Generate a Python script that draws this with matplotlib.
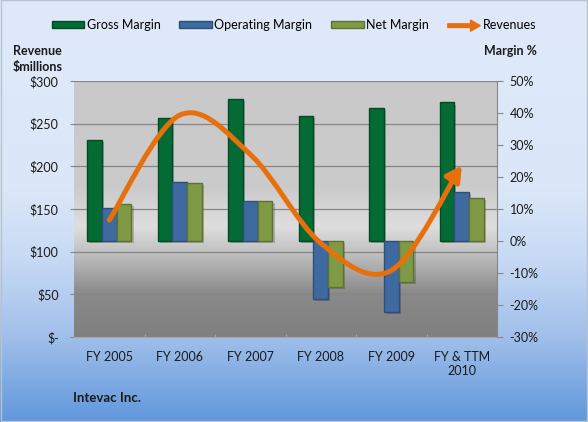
import numpy as np
import matplotlib
matplotlib.use("Agg")
import matplotlib.pyplot as plt
from matplotlib.colors import LinearSegmentedColormap
from matplotlib.patches import Patch, FancyArrowPatch, FancyArrow, Rectangle
from matplotlib.path import Path
from matplotlib.legend_handler import HandlerPatch
import matplotlib.patheffects as pe

plt.rcParams['font.family'] = ['Lato', 'DejaVu Sans']

# data
years = ['FY 2005', 'FY 2006', 'FY 2007', 'FY 2008', 'FY 2009', 'FY & TTM\n2010']
revenue = [137, 260, 214, 110, 78, 201]          # $ millions
gross_margin = [31.6, 38.5, 44.3, 39.2, 41.7, 43.3]
operating_margin = [10.4, 18.3, 12.5, -18.2, -22.3, 15.4]
net_margin = [11.6, 18.0, 12.6, -14.3, -12.9, 13.5]

rev_ticks = [0, 50, 100, 150, 200, 250, 300]
pct_ticks = [-30, -20, -10, 0, 10, 20, 30, 40, 50]

green, blue, olive, orange = '#036b33', '#3e6aa0', '#7f9a45', '#e8700c'
txt = '#1a1a1a'
fs = 9

fig = plt.figure(figsize=(5.88, 4.22), dpi=100)

# figure background gradient
bg = fig.add_axes([0, 0, 1, 1], zorder=-10)
bg_cmap = LinearSegmentedColormap.from_list('bg', [(0, '#dfe9f9'), (0.45, '#dbe7f8'),
                                                   (0.62, '#c6d9f4'), (0.8, '#a0bfea'),
                                                   (1, '#6197dc')])
bg.imshow(np.linspace(0, 1, 256).reshape(-1, 1), aspect='auto', cmap=bg_cmap,
          extent=[0, 1, 1, 0])
bg.set_xlim(0, 1); bg.set_ylim(1, 0)
bg.axis('off')
bg.add_patch(Rectangle((0.001, 0.001), 0.997, 0.996, fill=False, ec='#b8c2cc', lw=1))

# revenue axis (left) holds plot-area fill and grid
ax = fig.add_axes([74 / 588, 85 / 422, 423 / 588, 256 / 422])
pa_cmap = LinearSegmentedColormap.from_list('pa', [(0, '#c9c9c9'), (0.42, '#cbcbcb'),
                                                   (0.57, '#dedede'), (0.68, '#bebebe'),
                                                   (0.83, '#8a8a8a'), (1, '#7f7f7f')])
ax.imshow(np.linspace(0, 1, 256).reshape(-1, 1), aspect='auto', cmap=pa_cmap,
          extent=[-0.5, len(years) - 0.5, 0, 300], zorder=0)
ax.set_xlim(-0.5, len(years) - 0.5)
ax.set_ylim(0, 300)
ax.set_yticks(rev_ticks)
ax.set_yticklabels([f'${v}' if v else '$-' for v in rev_ticks])
ax.yaxis.grid(True, color='#868686', lw=0.9, zorder=1)
ax.set_axisbelow(True)
ax.set_xticks(range(len(years)))
ax.set_xticklabels(years)
ax.set_xticks(np.arange(0.5, len(years) - 1, 1), minor=True)
ax.tick_params(axis='x', which='major', length=0, pad=10, labelsize=fs, labelcolor=txt)
ax.tick_params(axis='x', which='minor', length=2, direction='in', color='#b0b0b0')
ax.tick_params(axis='y', length=3, color='#868686', pad=8, labelsize=fs, labelcolor=txt)
for s in ['top', 'left', 'right']:
    ax.spines[s].set_visible(False)
ax.spines['bottom'].set_color('#a8a8a8')

# margin axis (right) holds bars
ax2 = ax.twinx()
ax2.set_ylim(-30, 50)
ax2.set_yticks(pct_ticks)
ax2.set_yticklabels([f'{v}%' for v in pct_ticks])
ax2.tick_params(axis='y', length=4, color='#868686', pad=5, labelsize=fs, labelcolor=txt)
for s in ['top', 'left', 'bottom']:
    ax2.spines[s].set_visible(False)
ax2.spines['right'].set_color('#868686')

x = np.arange(len(years))
w = 0.21
shadow = [pe.SimplePatchShadow(offset=(1.5, -1.5), alpha=0.25), pe.Normal()]
for off, vals, c, ec in [(-w, gross_margin, green, '#024a24'),
                         (0, operating_margin, blue, '#2d4f7a'),
                         (w, net_margin, olive, '#5d7232')]:
    ax2.bar(x + off, vals, width=w, color=c, edgecolor=ec, lw=1, zorder=3,
            path_effects=shadow)

# smoothed revenue line with arrow head (Excel-style smoothing)
pts = np.column_stack([x, revenue]).astype(float)
ext = np.vstack([pts[0], pts, pts[-1]])
verts = [tuple(pts[0])]
codes = [Path.MOVETO]
for i in range(len(pts) - 1):
    c1 = ext[i + 1] + (ext[i + 2] - ext[i]) / 6
    c2 = ext[i + 2] - (ext[i + 3] - ext[i + 1]) / 6
    verts += [tuple(c1), tuple(c2), tuple(pts[i + 1])]
    codes += [Path.CURVE4] * 3
arrow = FancyArrowPatch(path=Path(verts, codes), transform=ax.transData,
                        arrowstyle='-|>,head_length=0.9,head_width=0.5',
                        mutation_scale=10, color=orange, lw=3.6,
                        capstyle='round', joinstyle='round', zorder=5)
ax2.add_patch(arrow)
ax2.set_ylim(-30, 50)

# legend
def make_arrow(legend, orig_handle, xdescent, ydescent, width, height, fontsize):
    return FancyArrow(0, height / 2, width, 0, width=2.6, length_includes_head=True,
                      head_width=8, head_length=7, color=orange)

handles = [Patch(fc=green, ec='#024a24'), Patch(fc=blue, ec='#2d4f7a'),
           Patch(fc=olive, ec='#5d7232'), Patch(fc=orange, ec=orange)]
labels = ['Gross Margin', 'Operating Margin', 'Net Margin', 'Revenues']
fig.legend(handles, labels, ncol=4, loc='center', bbox_to_anchor=(0.5, 1 - 25 / 422),
           frameon=False, fontsize=fs, handlelength=2.6, handleheight=0.45,
           handletextpad=0.2, columnspacing=1.5,
           handler_map={handles[3]: HandlerPatch(patch_func=make_arrow)})

fig.text(13 / 588, 1 - 51 / 422, 'Revenue', fontsize=fs, fontweight='bold',
         color=txt, va='center')
fig.text(13 / 588, 1 - 67 / 422, '$millions', fontsize=fs, fontweight='bold',
         color=txt, va='center')
fig.text(484 / 588, 1 - 51 / 422, 'Margin %', fontsize=fs, fontweight='bold',
         color=txt, va='center')
fig.text(73 / 588, 1 - 398 / 422, 'Intevac Inc.', fontsize=9.5, fontweight='bold',
         color=txt, va='center')

fig.savefig('out.png', dpi=100)
